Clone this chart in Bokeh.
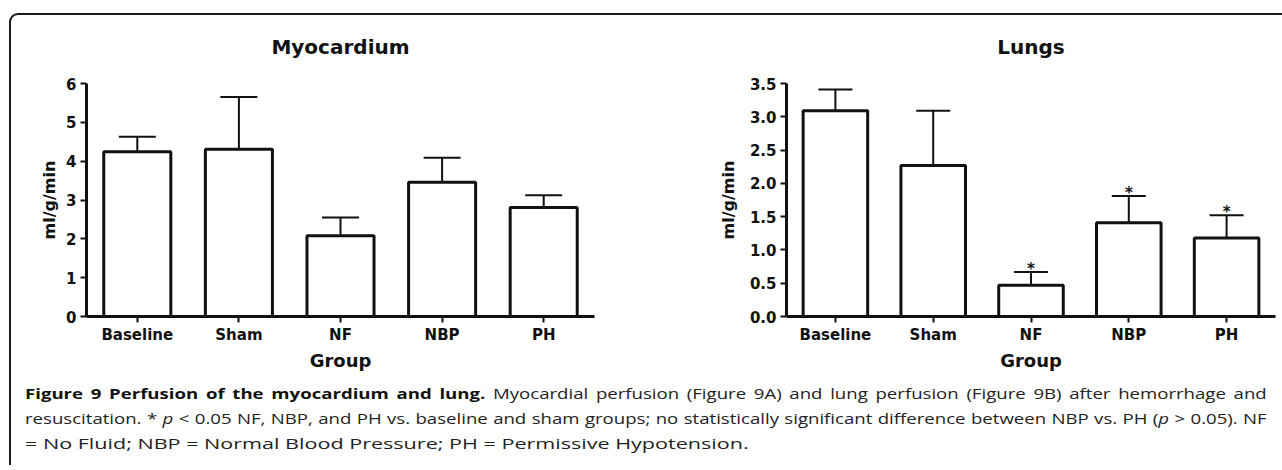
from bokeh.plotting import figure
from bokeh.models import (ColumnDataSource, FactorRange, Range1d, Whisker, TeeHead,
                          FixedTicker, Div, NumeralTickFormatter)
from bokeh.layouts import column, row
from bokeh.embed import file_html
from bokeh.resources import INLINE
from bokeh.core.properties import value

# ---------------- data ----------------
groups = ["Baseline", "Sham", "NF", "NBP", "PH"]

myo_mean = [4.24, 4.31, 2.08, 3.46, 2.81]
myo_sem = [0.39, 1.34, 0.47, 0.63, 0.31]
myo_sig = ["", "", "", "", ""]
myo_ticks = [0, 1, 2, 3, 4, 5, 6]

lung_mean = [3.09, 2.27, 0.47, 1.41, 1.18]
lung_sem = [0.32, 0.82, 0.20, 0.40, 0.34]
lung_sig = ["", "", "*", "*", "*"]
lung_ticks = [0.0, 0.5, 1.0, 1.5, 2.0, 2.5, 3.0, 3.5]

titles = ["Myocardium", "Lungs"]
x_label = "Group"
y_label = "ml/g/min"

caption_bold = "Figure 9 Perfusion of the myocardium and lung."
caption_l1 = " Myocardial perfusion (Figure 9A) and lung perfusion (Figure 9B) after hemorrhage and"
caption_l2 = ("resuscitation. * <i>p</i> &lt; 0.05 NF, NBP, and PH vs. baseline and sham groups; "
              "no statistically significant difference between NBP vs. PH (<i>p</i> &gt; 0.05). NF")
caption_l3 = "= No Fluid; NBP = Normal Blood Pressure; PH = Permissive Hypotension."

INK = "#111111"
FONT = "DejaVu Sans"


def make_chart(title, mean, sem, sig, ticks, ymax, fmt, width, min_left, min_right,
               cap_size, ylabel_standoff):
    upper = [m + s for m, s in zip(mean, sem)]
    src = ColumnDataSource(dict(g=groups, m=mean, u=upper, sig=sig))
    p = figure(x_range=FactorRange(*groups), y_range=Range1d(0, ymax),
               width=width, height=373, output_backend="svg", toolbar_location=None,
               min_border_left=min_left, min_border_right=min_right,
               min_border_top=0, min_border_bottom=64, title=title)
    p.outline_line_color = None
    p.xgrid.visible = False
    p.ygrid.visible = False
    p.background_fill_color = "white"
    p.border_fill_color = None

    p.title.text_font = FONT
    p.title.text_font_size = "20px"
    p.title.text_font_style = "bold"
    p.title.text_color = INK
    p.title.align = "center"
    p.title.standoff = 50

    p.vbar(x="g", top="m", bottom=0, width=0.66, source=src,
           fill_color="white", line_color=INK, line_width=3)

    wh = Whisker(base="g", upper="u", lower="m", source=src, dimension="height",
                 line_color=INK, line_width=2,
                 upper_head=TeeHead(size=cap_size, line_color=INK, line_width=2),
                 lower_head=None)
    p.add_layout(wh)

    p.text(x="g", y="u", text="sig", source=src, text_font=value(FONT),
           text_font_style="bold", text_font_size="15px", text_color=INK,
           text_align="center", text_baseline="alphabetic", y_offset=-3)

    for ax in (p.xaxis[0], p.yaxis[0]):
        ax.axis_line_width = 3
        ax.axis_line_color = INK
        ax.major_tick_line_width = 2
        ax.major_tick_line_color = INK
        ax.major_tick_out = 6
        ax.major_tick_in = 0
        ax.minor_tick_line_color = None
        ax.major_label_text_font = FONT
        ax.major_label_text_font_style = "bold"
        ax.major_label_text_font_size = "15px"
        ax.major_label_text_color = INK
        ax.axis_label_text_font = FONT
        ax.axis_label_text_font_style = "bold"
        ax.axis_label_text_color = INK

    xa = p.xaxis[0]
    xa.axis_label = x_label
    xa.axis_label_text_font_size = "18px"
    xa.major_label_standoff = 3
    xa.axis_label_standoff = 3

    ya = p.yaxis[0]
    ya.axis_label = y_label
    ya.axis_label_text_font_size = "16px"
    ya.ticker = FixedTicker(ticks=ticks)
    ya.formatter = NumeralTickFormatter(format=fmt)
    ya.major_label_standoff = 4
    ya.axis_label_standoff = ylabel_standoff
    return p


p1 = make_chart(titles[0], myo_mean, myo_sem, myo_sig, myo_ticks, 6, "0",
                width=629, min_left=75, min_right=46, cap_size=37, ylabel_standoff=4)
p2 = make_chart(titles[1], lung_mean, lung_sem, lung_sig, lung_ticks, 3.5, "0.0",
                width=640, min_left=146, min_right=5, cap_size=34, ylabel_standoff=9)

base = "font-family:'Open Sans'; font-size:14px; line-height:25px; white-space:nowrap; transform-origin:0 0;"
just = "text-align:justify; text-align-last:justify;"
html = (
    '<div style="margin-left:9px; margin-top:-4px; color:#222;">'
    f'<div style="{base} {just} width:935px; transform:scaleX(1.328);">'
    f'<b style="color:#111">{caption_bold}</b>{caption_l1}</div>'
    f'<div style="{base} {just} width:935px; transform:scaleX(1.328);">{caption_l2}</div>'
    f'<div style="{base} width:500px; transform:scaleX(1.54);">{caption_l3}</div>'
    "</div>"
)
cap = Div(text=html, width=1263, height=75)

charts = row(p1, p2, margin=(-8, 0, 0, 0))
layout = column(charts, cap, margin=(13, 0, 0, 9),
                styles={"border-left": "2px solid #1a1a1a", "border-top": "2px solid #1a1a1a",
                        "border-top-left-radius": "9px", "background": "white"})

open("out.html", "w").write(file_html(layout, INLINE))
